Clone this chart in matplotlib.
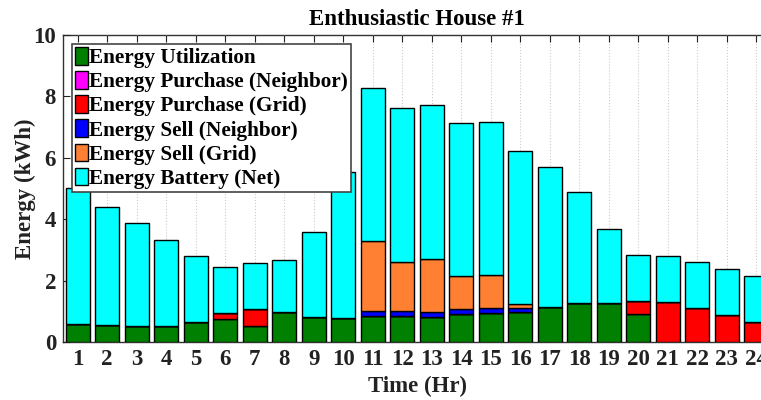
import numpy as np
import matplotlib
matplotlib.use("Agg")
from matplotlib import pyplot as plt

# hours 1..24
hours = np.arange(1, 25)

# stacked values (kWh)
utilization = [0.59, 0.55, 0.52, 0.52, 0.65, 0.74, 0.52, 0.97, 0.83, 0.78, 0.85, 0.85,
               0.80, 0.90, 0.93, 0.99, 1.15, 1.26, 1.26, 0.90, 0.00, 0.00, 0.00, 0.00]
purchase_neighbor = [0.0] * 24
purchase_grid = [0, 0, 0, 0, 0, 0.19, 0.55, 0, 0, 0, 0, 0,
                 0, 0, 0, 0, 0, 0, 0, 0.42, 1.30, 1.10, 0.88, 0.64]
sell_neighbor = [0, 0, 0, 0, 0, 0, 0, 0, 0, 0, 0.16, 0.16,
                 0.18, 0.16, 0.18, 0.11, 0, 0, 0, 0, 0, 0, 0, 0]
sell_grid = [0, 0, 0, 0, 0, 0, 0, 0, 0, 0, 2.28, 1.59,
             1.73, 1.08, 1.06, 0.13, 0, 0, 0, 0, 0, 0, 0, 0]
battery = [4.41, 3.86, 3.35, 2.80, 2.15, 1.50, 1.50, 1.70, 2.74, 4.77, 4.99, 5.01,
           5.00, 4.99, 5.00, 4.99, 4.54, 3.62, 2.42, 1.50, 1.50, 1.50, 1.50, 1.50]

labels = ['Energy Utilization', 'Energy Purchase (Neighbor)', 'Energy Purchase (Grid)',
          'Energy Sell (Neighbor)', 'Energy Sell (Grid)', 'Energy Battery (Net)']
colors = ['#008000', '#ff00ff', '#ff0000', '#0000ff', '#ff8033', '#00ffff']
series = [utilization, purchase_neighbor, purchase_grid, sell_neighbor, sell_grid, battery]

plt.rcParams['font.family'] = ['Liberation Serif', 'DejaVu Serif']
plt.rcParams['font.weight'] = 'bold'

fig = plt.figure(figsize=(7.61, 4.0), dpi=100)
# axes runs a little past the right edge, like the cropped original
ax = fig.add_axes([63 / 761, 58 / 400, 708 / 761, 307 / 400])

bottom = np.zeros(24)
handles = []
for vals, col, lab in zip(series, colors, labels):
    vals = np.array(vals, dtype=float)
    b = ax.bar(hours, vals, width=0.82, bottom=bottom, color=col,
               edgecolor='black', linewidth=1.0, label=lab, zorder=3)
    handles.append(b)
    bottom += vals

ax.set_xlim(0.5, 24.5)
ax.set_ylim(0, 10)
ax.set_xticks(hours)
ax.set_yticks([0, 2, 4, 6, 8, 10])
ax.tick_params(direction='in', top=True, right=True, length=5, width=0.8,
               labelsize=16.5, pad=5, colors='#222222')
for lbl in ax.get_xticklabels() + ax.get_yticklabels():
    lbl.set_fontweight('bold')
ax.xaxis.grid(True, linestyle=':', color='#cccccc', linewidth=0.8, zorder=0)
ax.set_axisbelow(False)
for s in ax.spines.values():
    s.set_color('#333333')
    s.set_linewidth(1.0)

ax.set_title('Enthusiastic House #1', fontsize=16.5, fontweight='bold', pad=7)
ax.set_xlabel('Time (Hr)', fontsize=16.5, fontweight='bold', labelpad=4, color='#222222')
ax.set_ylabel('Energy (kWh)', fontsize=16.5, fontweight='bold', labelpad=-2, color='#222222')

leg = ax.legend(handles=handles, loc='upper left', bbox_to_anchor=(0.0127, 0.971),
                fontsize=15.3, frameon=True, fancybox=False, framealpha=1.0,
                borderpad=0.15, labelspacing=0.14, handlelength=0.6, handleheight=0.9,
                handletextpad=0.05, borderaxespad=0)
leg.get_frame().set_edgecolor('#444444')
leg.get_frame().set_linewidth(1.2)
leg.set_zorder(10)
for t in leg.get_texts():
    t.set_fontweight('bold')

fig.savefig('out.png', dpi=100)
